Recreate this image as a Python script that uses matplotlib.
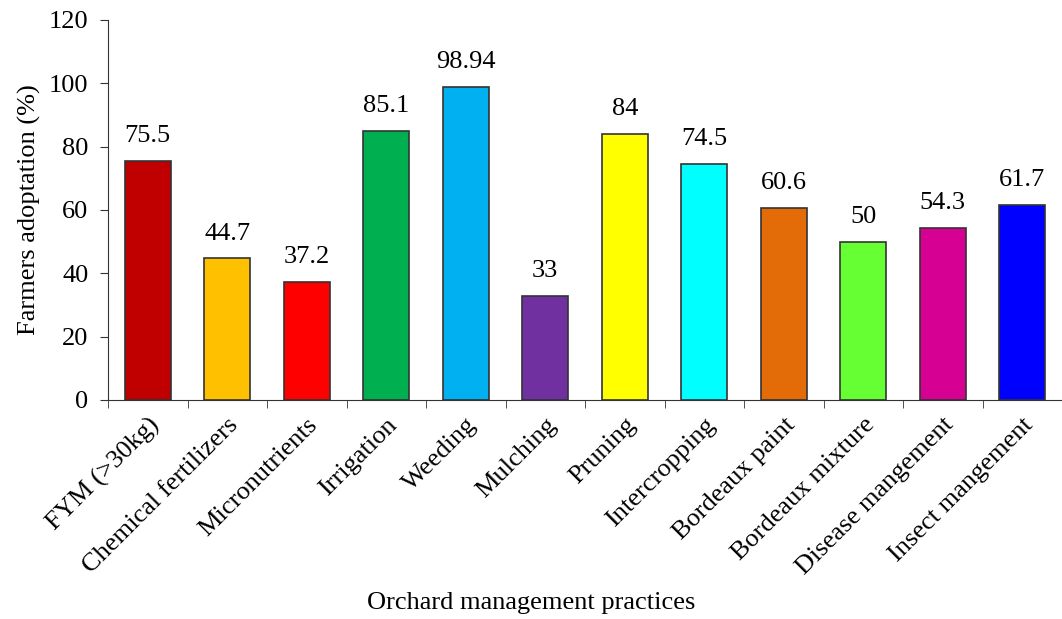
import matplotlib.pyplot as plt
import numpy as np

practices = ['FYM (>30kg)', 'Chemical fertilizers', 'Micronutrients', 'Irrigation',
             'Weeding', 'Mulching', 'Pruning', 'Intercropping', 'Bordeaux paint',
             'Bordeaux mixture', 'Disease mangement', 'Insect mangement']
adoption = [75.5, 44.7, 37.2, 85.1, 98.94, 33, 84, 74.5, 60.6, 50, 54.3, 61.7]
value_labels = ['75.5', '44.7', '37.2', '85.1', '98.94', '33', '84', '74.5',
                '60.6', '50', '54.3', '61.7']
colors = ['#C00000', '#FFC000', '#FF0000', '#00B050', '#00B0F0', '#7030A0',
          '#FFFF00', '#00FFFF', '#E36C09', '#66FF33', '#D60093', '#0000FF']

plt.rcParams['font.family'] = ['Liberation Serif', 'DejaVu Serif']
fs = 19

fig = plt.figure(figsize=(10.62, 6.19), dpi=100)
ax = fig.add_axes([108 / 1062, 1 - 400 / 619, 954 / 1062, 380 / 619])

x = np.arange(len(practices))
ax.bar(x, adoption, width=0.58, color=colors, edgecolor='#333333', linewidth=1.2)

for xi, v, lab in zip(x, adoption, value_labels):
    ax.annotate(lab, (xi, v), xytext=(0, 10), textcoords='offset points',
                ha='center', va='bottom', fontsize=fs)

ax.set_xlim(-0.5, len(practices) - 0.5)
ax.set_ylim(0, 120)
ax.set_yticks(range(0, 121, 20))

ax.set_xticks(x)
ax.set_xticklabels(practices, rotation=45, ha='right', rotation_mode='anchor', fontsize=fs)
ax.tick_params(axis='x', length=0, pad=10)
ax.set_xticks(np.arange(-0.5, len(practices), 1), minor=True)
ax.tick_params(axis='x', which='minor', length=6, direction='out', color='#333333')
ax.tick_params(axis='y', labelsize=fs, length=6, color='#333333', pad=8)

for s in ['top', 'right']:
    ax.spines[s].set_visible(False)
for s in ['left', 'bottom']:
    ax.spines[s].set_color('#333333')

ax.set_ylabel('Farmers adoptation (%)', fontsize=fs, labelpad=6)
fig.text(0.5, 1 - 603 / 619, 'Orchard management practices', ha='center', va='center', fontsize=fs)

fig.savefig('out.png', dpi=100)
